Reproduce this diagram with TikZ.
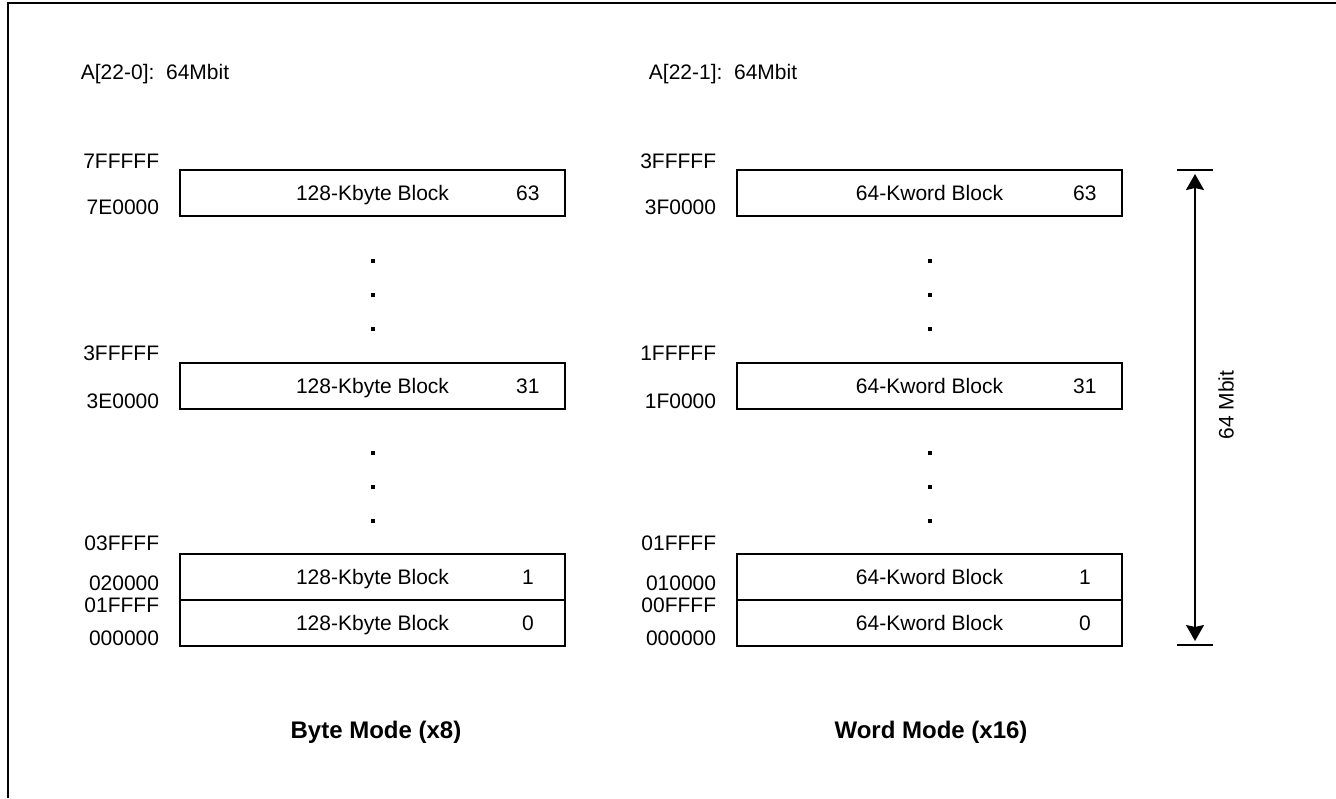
\documentclass[tikz,border=0pt]{standalone}
\usepackage{fontspec}
\setmainfont{Liberation Sans}
\usetikzlibrary{arrows.meta}

\tikzset{
  blk/.style={draw,line width=0.9pt,minimum width=192.5pt,minimum height=23pt,
    inner sep=0pt,text height=7pt,text depth=0pt},
  num/.style={inner sep=0pt,text height=7pt,text depth=0pt},
  addr/.style={anchor=base east,inner sep=0pt},
  head/.style={anchor=base west,inner sep=0pt},
  mode/.style={anchor=base,inner sep=0pt,font=\fontsize{12}{14}\selectfont\bfseries},
}

\begin{document}
\begin{tikzpicture}[x=0.5pt,y=-0.5pt,line width=0.9pt,
    font=\fontsize{10.5}{12}\selectfont]
  \useasboundingbox (0,0) rectangle (1336,798);

  % Rahmen
  \draw[line width=1pt] (8,798) -- (8,3) -- (1336,3);

  % Byte Mode
  \node[head] (hb) at (80,79) {A[22-0]:\ \ 64Mbit};
  \node[blk] (B63) at (372.5,193) {128-Kbyte Block};
  \node[blk] (B31) at (372.5,386) {128-Kbyte Block};
  \node[blk] (B1) at (372.5,577) {128-Kbyte Block};
  \node[blk] (B0) at (372.5,623) {128-Kbyte Block};
  \node[num] (nb63) at ([xshift=-19pt]B63.east) {63};
  \node[num] (nb31) at ([xshift=-19pt]B31.east) {31};
  \node[num] (nb1) at ([xshift=-19pt]B1.east) {1};
  \node[num] (nb0) at ([xshift=-19pt]B0.east) {0};

  \node[addr] (ab1) at (160,168) {7FFFFF};
  \node[addr] (ab2) at (160,214) {7E0000};
  \node[addr] (ab3) at (160,360) {3FFFFF};
  \node[addr] (ab4) at (160,408) {3E0000};
  \node[addr] (ab5) at (160,550) {03FFFF};
  \node[addr] (ab6) at (160,590) {020000};
  \node[addr] (ab7) at (160,612) {01FFFF};
  \node[addr] (ab8) at (160,645) {000000};

  \node[mode] (mb) at (376,738) {Byte Mode (x8)};

  % Word Mode
  \node[head] (hw) at (648,79) {A[22-1]:\ \ 64Mbit};
  \node[blk] (W63) at (929.5,193) {64-Kword Block};
  \node[blk] (W31) at (929.5,386) {64-Kword Block};
  \node[blk] (W1) at (929.5,577) {64-Kword Block};
  \node[blk] (W0) at (929.5,623) {64-Kword Block};
  \node[num] (nw63) at ([xshift=-19pt]W63.east) {63};
  \node[num] (nw31) at ([xshift=-19pt]W31.east) {31};
  \node[num] (nw1) at ([xshift=-19pt]W1.east) {1};
  \node[num] (nw0) at ([xshift=-19pt]W0.east) {0};

  \node[addr] (aw1) at (717,168) {3FFFFF};
  \node[addr] (aw2) at (717,214) {3F0000};
  \node[addr] (aw3) at (717,360) {1FFFFF};
  \node[addr] (aw4) at (717,408) {1F0000};
  \node[addr] (aw5) at (717,550) {01FFFF};
  \node[addr] (aw6) at (717,590) {010000};
  \node[addr] (aw7) at (717,612) {00FFFF};
  \node[addr] (aw8) at (717,645) {000000};

  \node[mode] (mw) at (931,738) {Word Mode (x16)};

  % Punkte
  \foreach \x in {372.5,929.5}
    \foreach \y in {261,295,329,453,487,521}
      \fill (\x-2,\y-2) rectangle (\x+2,\y+2);

  % Massangabe
  \coordinate (top) at (1195,170);
  \coordinate (bot) at (1195,645);
  \draw ([xshift=-9pt]top) -- ([xshift=9pt]top);
  \draw ([xshift=-9pt]bot) -- ([xshift=9pt]bot);
  \draw[{Stealth[length=8pt,width=9pt,inset=1pt]}-{Stealth[length=8pt,width=9pt,inset=1pt]}]
    ([yshift=-2pt]top) -- ([yshift=2pt]bot);
  \node[rotate=90,inner sep=0pt] (size) at (1226,405) {64 Mbit};
\end{tikzpicture}
\end{document}
